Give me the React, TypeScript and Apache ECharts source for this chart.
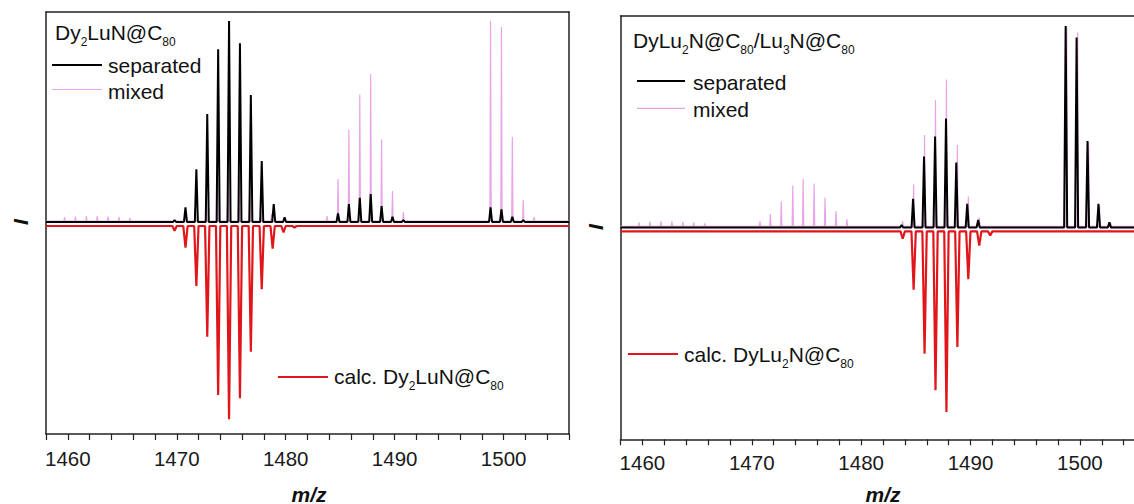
import React, { useEffect, useRef } from 'react';
import * as echarts from 'echarts';

// m/z axis range and tick step
const mzMin = 1458;
const mzMax = 1506;
const tickStep = 2;
const tickLabelValues = [1460, 1470, 1480, 1490, 1500];

// Left panel: separated Dy2LuN@C80 (peak m/z, intensity)
const leftSeparatedPeaks: [number, number][] = [
  [1469.8, 2], [1470.8, 14.7], [1471.8, 52.7], [1472.8, 108], [1473.8, 172.7],
  [1474.8, 201], [1475.8, 178.7], [1476.8, 127], [1477.8, 61], [1478.9, 18],
  [1479.9, 4.7], [1484.8, 8.7], [1485.8, 18], [1486.8, 24.3], [1487.8, 28],
  [1488.8, 16], [1489.8, 5.3], [1490.8, 2], [1498.8, 14.7], [1499.8, 12.7],
  [1500.8, 5.3], [1501.8, 2],
];

// Left panel: calculated Dy2LuN@C80
const leftCalcPeaks: [number, number][] = [
  [1469.8, 4.7], [1470.8, 21.7], [1471.8, 60], [1472.8, 110.7], [1473.8, 169],
  [1474.8, 193.3], [1475.8, 172.3], [1476.8, 125.7], [1477.8, 63.3], [1478.8, 22.7],
  [1479.8, 6.3], [1480.8, 1.5],
];

// Right panel: separated DyLu2N@C80 / Lu3N@C80
const rightSeparatedPeaks: [number, number][] = [
  [1483.7, 2.5], [1484.75, 28.5], [1485.75, 71], [1486.76, 91], [1487.76, 109],
  [1488.7, 65], [1489.7, 23.5], [1490.7, 7.5], [1498.7, 201.5], [1499.7, 190],
  [1500.7, 86.5], [1501.7, 23.5], [1502.7, 5],
];

// Right panel: calculated DyLu2N@C80
const rightCalcPeaks: [number, number][] = [
  [1483.8, 7.3], [1484.8, 58.3], [1485.8, 122.3], [1486.8, 159], [1487.8, 180.7],
  [1488.8, 115.7], [1489.8, 47.7], [1490.8, 14.3], [1491.8, 4],
];

// Mixed sample (same spectrum in both panels)
const mixedPeaks: [number, number][] = [
  [1459.7, 4], [1460.7, 4.5], [1461.7, 5], [1462.7, 5], [1463.7, 4.5], [1464.7, 4],
  [1465.7, 3], [1470.75, 5], [1471.7, 12.5], [1472.7, 25], [1473.75, 41], [1474.7, 47.5],
  [1475.7, 43], [1476.7, 29], [1477.7, 15.5], [1478.7, 7], [1483.8, 5], [1484.8, 42],
  [1485.8, 91.5], [1486.8, 126.5], [1487.8, 147], [1488.8, 81.5], [1489.8, 30],
  [1490.8, 9], [1498.8, 200], [1499.8, 194], [1500.8, 84], [1501.8, 21], [1502.8, 4],
];

const FONT = '"Liberation Sans", Arial, Helvetica, sans-serif';
const BLACK = '#000000';
const PINK = '#eaa4e8';
const RED = '#e1161b';
const AXIS = '#222222';

function trace(peaks: [number, number][], base: number, hw: number, sign: number) {
  const pts: [number, number][] = [[mzMin, base]];
  for (const [mz, h] of peaks) {
    pts.push([mz - hw, base], [mz, base + sign * h], [mz + hw, base]);
  }
  pts.push([mzMax, base]);
  return pts;
}

function bottomX(gridIndex: number, margin: number) {
  return {
    type: 'value', gridIndex, min: mzMin, max: mzMax, interval: tickStep, position: 'bottom',
    axisLine: { show: true, onZero: false, lineStyle: { color: AXIS, width: 1.5 } },
    axisTick: { show: true, inside: false, length: 6, lineStyle: { color: AXIS, width: 1.2 } },
    axisLabel: {
      show: true, margin, color: '#1a1a1a', fontSize: 20.5, fontFamily: FONT,
      formatter: (v: number) => (tickLabelValues.includes(Math.round(v)) && Math.abs(v - Math.round(v)) < 1e-6 ? String(Math.round(v)) : ''),
    },
    splitLine: { show: false },
  };
}

function topX(gridIndex: number) {
  return {
    type: 'value', gridIndex, min: mzMin, max: mzMax, interval: tickStep, position: 'top',
    axisLine: { show: true, onZero: false, lineStyle: { color: AXIS, width: 1.5 } },
    axisTick: { show: false }, axisLabel: { show: false }, splitLine: { show: false },
  };
}

function yAx(gridIndex: number, min: number, max: number, position: string) {
  return {
    type: 'value', gridIndex, min, max, position,
    axisLine: { show: true, onZero: false, lineStyle: { color: AXIS, width: 1.5 } },
    axisTick: { show: false }, axisLabel: { show: false }, splitLine: { show: false },
  };
}

function line(xi: number, yi: number, data: [number, number][], color: string, width: number) {
  return {
    type: 'line', xAxisIndex: xi, yAxisIndex: yi, data, showSymbol: false, symbol: 'none',
    silent: true, lineStyle: { color, width },
  };
}

const subStyle = { fontSize: 12, lineHeight: 22, padding: [19, 0, 0, 0], fontFamily: FONT, fill: '#111' };

function label(x: number, y: number, text: string) {
  return {
    type: 'text', x, y, silent: true,
    style: {
      text, fill: '#111', fontSize: 21, fontFamily: FONT, lineHeight: 22,
      align: 'left', verticalAlign: 'middle',
      rich: { s: subStyle },
    },
  };
}

function legLine(x1: number, x2: number, y: number, color: string, w: number) {
  return { type: 'line', silent: true, shape: { x1, y1: y, x2, y2: y }, style: { stroke: color, lineWidth: w } };
}

function italicText(x: number, y: number, text: string, rotation: number) {
  return {
    type: 'text', x, y, rotation, silent: true,
    style: { text, fill: '#111', fontSize: 21, fontWeight: 'bold', fontStyle: 'italic', fontFamily: FONT, align: 'center', verticalAlign: 'middle' },
  };
}

export default function App() {
  const ref = useRef<HTMLDivElement>(null);
  useEffect(() => {
    if (!ref.current) return;
    const chart = echarts.init(ref.current, undefined, { renderer: 'svg' });
    const option: any = {
      animation: false,
      backgroundColor: '#ffffff',
      grid: [
        { left: 46, top: 12, width: 523, height: 422, show: false, outerBoundsMode: 'none', containLabel: false },
        { left: 620.5, top: 16, width: 525, height: 423.3, show: false, outerBoundsMode: 'none', containLabel: false },
      ],
      xAxis: [bottomX(0, 14), topX(0), bottomX(1, 13), topX(1)],
      yAxis: [yAx(0, -212, 210, 'left'), yAx(0, -212, 210, 'right'), yAx(1, -212, 211.5, 'left')],
      series: [
        line(0, 0, trace(mixedPeaks, 1, 0.06, 1), PINK, 1.2),
        line(0, 0, trace(leftSeparatedPeaks, 0, 0.14, 1), BLACK, 2),
        line(0, 0, trace(leftCalcPeaks, -4, 0.2, -1), RED, 2.2),
        line(2, 2, trace(mixedPeaks, 1, 0.06, 1), PINK, 1.2),
        line(2, 2, trace(rightSeparatedPeaks, 0, 0.14, 1), BLACK, 2),
        line(2, 2, trace(rightCalcPeaks, -4, 0.2, -1), RED, 2.2),
      ],
      graphic: [
        label(55, 32, 'Dy{s|2}LuN@C{s|80}'),
        legLine(52, 102, 65, BLACK, 2),
        label(108, 65, 'separated'),
        legLine(52, 102, 89.5, PINK, 1.2),
        label(108, 91, 'mixed'),
        legLine(278, 328, 377, RED, 2),
        label(334, 376, 'calc. Dy{s|2}LuN@C{s|80}'),
        label(633, 40, 'DyLu{s|2}N@C{s|80}/Lu{s|3}N@C{s|80}'),
        legLine(637, 685, 81, BLACK, 2),
        label(693, 82, 'separated'),
        legLine(637, 685, 108.3, PINK, 1.2),
        label(693, 109.5, 'mixed'),
        legLine(628, 678, 354, RED, 2),
        label(684, 354, 'calc. DyLu{s|2}N@C{s|80}'),
        italicText(20, 222, 'I', Math.PI / 2),
        italicText(595, 227, 'I', Math.PI / 2),
        italicText(309, 494, 'm/z', 0),
        italicText(883, 494, 'm/z', 0),
      ],
    };
    chart.setOption(option);
    return () => chart.dispose();
  }, []);
  return <div ref={ref} style={{ position: 'fixed', left: 0, top: 0, width: 1134, height: 504 }} />;
}
